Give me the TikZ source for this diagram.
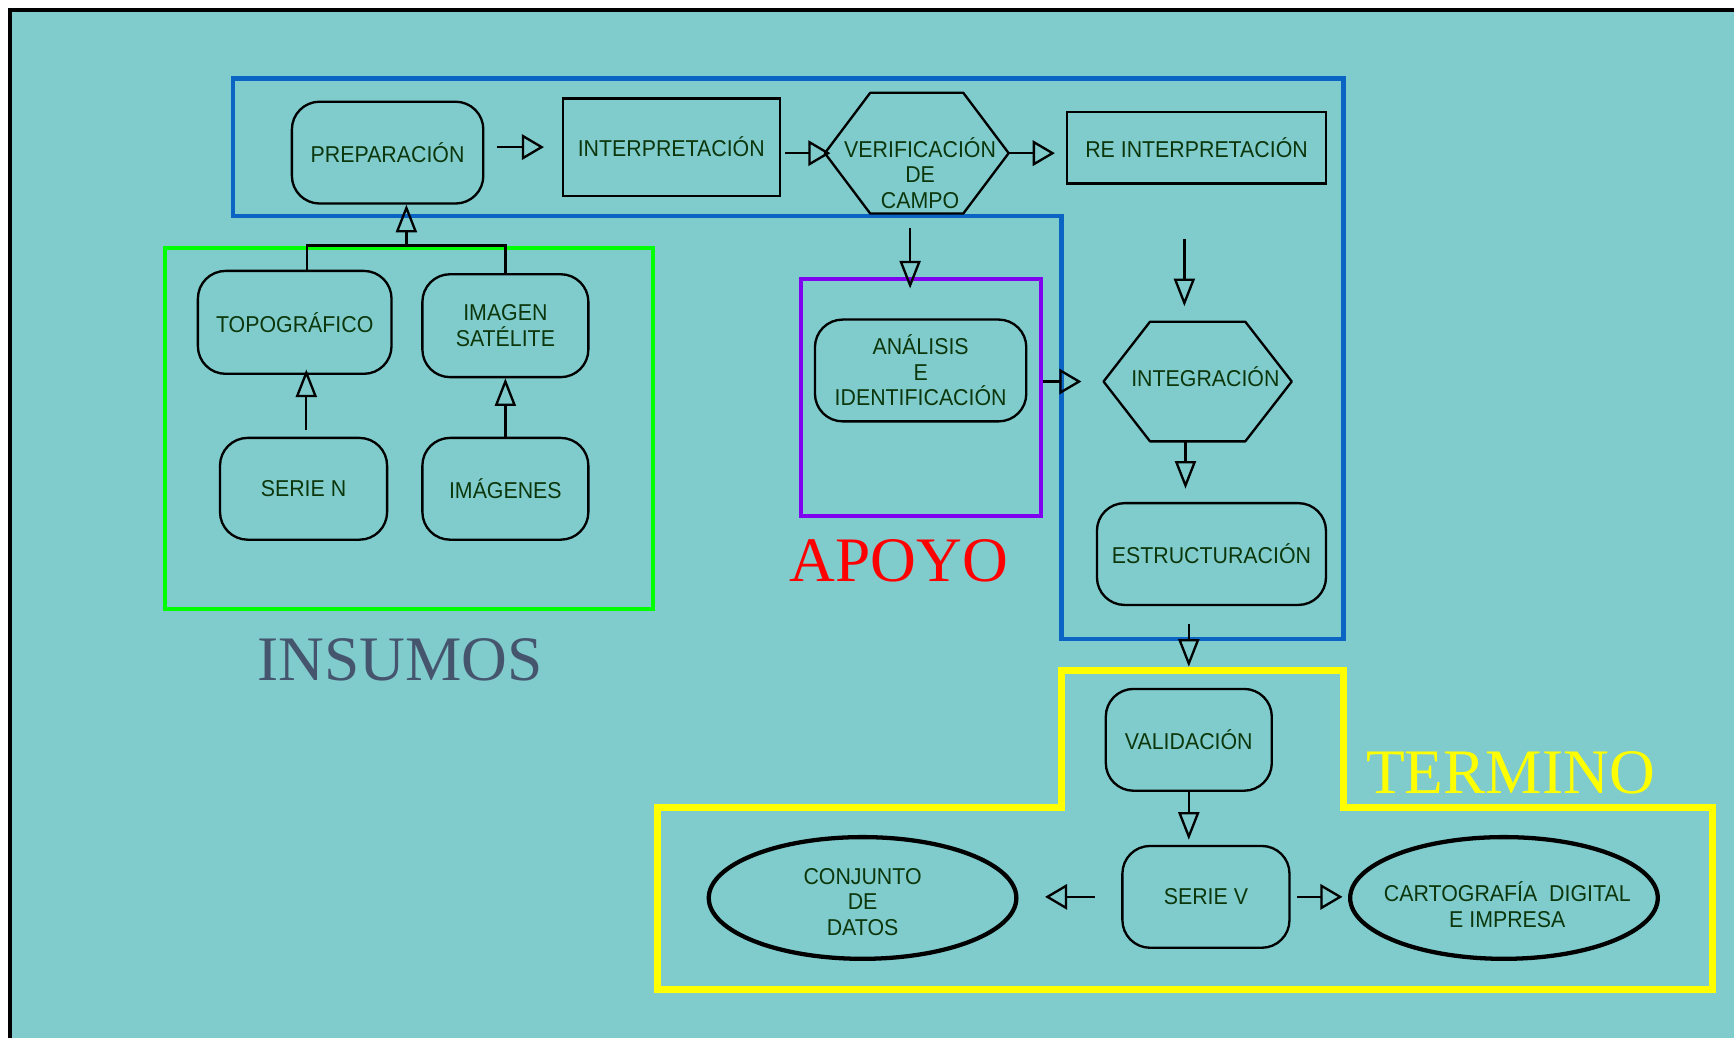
\documentclass[tikz,border=0pt]{standalone}
\usepackage{fontspec}
\setmainfont{Liberation Serif}
\newfontfamily\nodefont[FakeStretch=0.93]{Liberation Sans}
\usetikzlibrary{arrows.meta,shapes.geometric}

\definecolor{bgteal}{RGB}{128,203,204}
\definecolor{boxblue}{RGB}{10,100,195}
\definecolor{boxgreen}{RGB}{0,255,0}
\definecolor{boxpurple}{RGB}{128,0,240}
\definecolor{boxyellow}{RGB}{255,255,0}
\definecolor{txtgreen}{RGB}{12,55,12}
\definecolor{insumoscol}{RGB}{70,85,110}

\begin{document}
\begin{tikzpicture}[x=0.01cm, y=-0.01cm,
  base/.style={line width=0.6pt, font=\nodefont\fontsize{5.9}{6.6}\selectfont, text=txtgreen, align=center, inner sep=0pt},
  rbox/.style={base, draw, rectangle, rounded corners=0.25cm},
  sbox/.style={base, draw, rectangle},
  hexbox/.style={base, rectangle},
  hexline/.style={line width=0.6pt, line join=round},
  ell/.style={base, draw, ellipse, line width=1.1pt},
  grp/.style={line width=1.1pt},
  harr/.style={line width=0.6pt, -{Triangle[open, length=0.2cm, width=0.23cm]}},
  varr/.style={line width=0.6pt, -{Triangle[open, length=0.25cm, width=0.19cm]}},
  wire/.style={line width=0.6pt},
  big/.style={font=\fontsize{16.3}{18}\selectfont, inner sep=0pt}
]
\useasboundingbox (0,0) rectangle (1568,939);
% background
\fill[white] (0,0) rectangle (1568,939);
\fill[bgteal] (9,9) rectangle (1568,939);
\draw[line width=0.8pt] (9,939) -- (9,9) -- (1568,9);

% group frames
\draw[grp, draw=boxblue] (211,71) -- (1215,71) -- (1215,578) -- (960,578) -- (960,195) -- (211,195) -- cycle;
\draw[grp, draw=boxgreen] (149.5,224.5) rectangle (590.5,551);
\draw[grp, draw=boxpurple] (724.5,252.5) rectangle (941.5,466.5);
\draw[line width=1.8pt, draw=boxyellow] (960,606.5) -- (1215,606.5) -- (1215,730.5) -- (1548.5,730.5) -- (1548.5,894.5) -- (594.5,894.5) -- (594.5,730.5) -- (960,730.5) -- cycle;

% nodes
\node[rbox, minimum width=1.73cm, minimum height=0.92cm] (prep) at (350.5,138) {PREPARACIÓN};
\node[sbox, minimum width=1.96cm, minimum height=0.88cm] (interp) at (607,133) {INTERPRETACIÓN};
\node[hexbox, minimum width=1.64cm, minimum height=1.07cm] (verif) at (829,138.5) {};
\draw[hexline] ([xshift=0.41cm]verif.north west) -- ([xshift=-0.41cm]verif.north east) -- (verif.east) -- ([xshift=-0.41cm]verif.south east) -- ([xshift=0.41cm]verif.south west) -- (verif.west) -- cycle;
\node[base] (veriftext) at (832,156.5) {VERIFICACIÓN\\DE\\CAMPO};
\node[sbox, minimum width=2.34cm, minimum height=0.65cm] (reinterp) at (1082,133.5) {RE INTERPRETACIÓN};

\node[rbox, minimum width=1.75cm, minimum height=0.93cm] (topo) at (266.5,291.5) {TOPOGRÁFICO};
\node[rbox, minimum width=1.50cm, minimum height=0.93cm] (imagen) at (457,294.5) {IMAGEN\\SATÉLITE};
\node[rbox, minimum width=1.51cm, minimum height=0.92cm] (serien) at (274.5,442) {SERIE N};
\node[rbox, minimum width=1.50cm, minimum height=0.92cm] (imagenes) at (457,442) {IMÁGENES};

\node[rbox, minimum width=1.91cm, minimum height=0.92cm] (analisis) at (832.5,335) {ANÁLISIS\\E\\IDENTIFICACIÓN};
\node[hexbox, minimum width=1.68cm, minimum height=1.06cm] (integ) at (1083,345) {};
\draw[hexline] ([xshift=0.42cm]integ.north west) -- ([xshift=-0.42cm]integ.north east) -- (integ.east) -- ([xshift=-0.42cm]integ.south east) -- ([xshift=0.42cm]integ.south west) -- (integ.west) -- cycle;
\node[base] (integtext) at (1090,341) {INTEGRACIÓN};
\node[rbox, minimum width=2.07cm, minimum height=0.92cm] (estruct) at (1095.5,501) {ESTRUCTURACIÓN};
\node[rbox, minimum width=1.50cm, minimum height=0.92cm] (valid) at (1075,669) {VALIDACIÓN};
\node[rbox, minimum width=1.51cm, minimum height=0.92cm] (seriev) at (1090.5,811) {SERIE V};
\node[ell, minimum width=2.78cm, minimum height=1.10cm] (conj) at (780,812) {};
\node[base] (conjtext) at (780,815.5) {CONJUNTO\\DE\\DATOS};
\node[ell, minimum width=2.78cm, minimum height=1.10cm] (carto) at (1360,812) {};
\node[base] (cartotext) at (1363,818) {CARTOGRAFÍA~~DIGITAL\\E IMPRESA};

% labels
\node[big, text=insumoscol] (insumos) at (362,597) {INSUMOS};
\node[big, text=red] (apoyo) at (813,507) {APOYO};
\node[big, text=boxyellow] (termino) at (1366,699) {TERMINO};

% connectors
\coordinate (j) at (367.5,222);
\draw[wire] ([xshift=0.11cm]topo.north) |- (imagen.north |- j) -- (imagen.north);
\draw[varr] (j) -- (j |- prep.south);
\draw[varr, shorten <=0.06cm, shorten >=-0.05cm] ([xshift=0.025cm]serien.north) -- ([xshift=0.025cm]serien.north |- topo.south);
\draw[varr] (imagenes.north) -- (imagen.south);

\draw[harr, shorten <=0.11cm, shorten >=0.16cm] (prep.east |- interp.west) -- (interp.west);
\draw[harr, shorten <=0.04cm, shorten >=-0.05cm] (interp.east |- verif.west) -- (verif.west);
\draw[harr, shorten >=0.10cm] (verif.east) -- (verif.east -| reinterp.west);
\draw[varr, shorten <=0.13cm, shorten >=0.27cm] ([xshift=-0.06cm]verif.south) -- ([xshift=-0.06cm]verif.south |- analisis.north);
\draw[harr, shorten <=0.14cm, shorten >=0.20cm] (analisis.east |- integ.west) -- (integ.west);
\draw[varr, shorten <=0.49cm, shorten >=0.14cm] ([xshift=-0.11cm]reinterp.south) -- ([xshift=-0.11cm]reinterp.south |- integ.north);
\draw[varr, shorten >=0.12cm] ([xshift=-0.11cm]integ.south) -- ([xshift=-0.11cm]integ.south |- estruct.north);
\draw[varr, shorten <=0.165cm, shorten >=0.19cm] (valid.north |- estruct.south) -- (valid.north);
\draw[varr, shorten >=0.045cm] (valid.south) -- (valid.south |- seriev.north);
\draw[harr, shorten <=0.24cm, shorten >=0.24cm] (seriev.west) -- (seriev.west -| conj.east);
\draw[harr, shorten <=0.06cm, shorten >=0.05cm] (seriev.east) -- (seriev.east -| carto.west);
\end{tikzpicture}
\end{document}
